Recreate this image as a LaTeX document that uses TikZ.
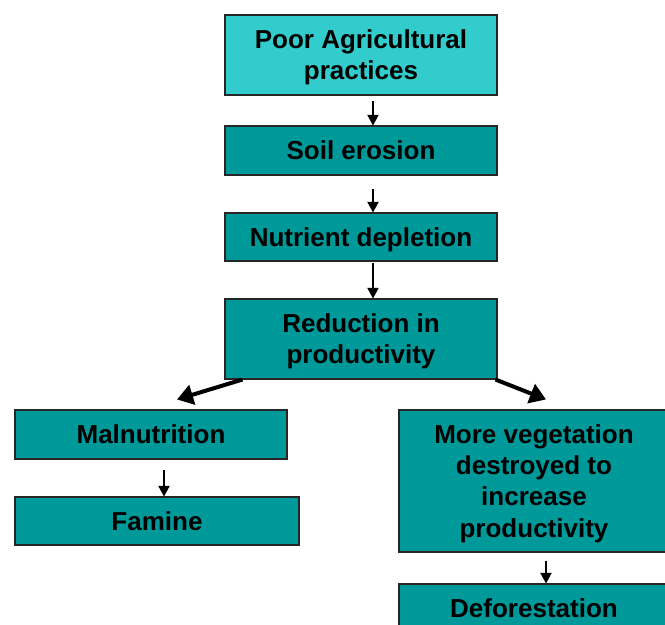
\documentclass[tikz,border=0pt]{standalone}
\usepackage{fontspec}
\setmainfont{Liberation Sans}
\usepackage{tikz}
\usetikzlibrary{arrows.meta,positioning}
\definecolor{lightteal}{HTML}{33CCCC}
\definecolor{darkteal}{HTML}{009999}

\tikzset{
  box/.style={draw=black!85, line width=0.8pt, fill=darkteal, inner sep=0pt,
    align=center, font=\fontsize{19.5}{23.3}\selectfont\bfseries,
    minimum width=204pt, text depth=0pt},
  flow/.style={line width=0.9pt, -{Triangle[length=8pt,width=8.5pt]}},
  branch/.style={line width=3pt, -{Triangle[length=12pt,width=15pt]}}
}

\begin{document}
\begin{tikzpicture}[x=0.75pt,y=-0.75pt]
\useasboundingbox (0,0) rectangle (665,625);
\clip (0,0) rectangle (665,625);

% main chain
\node[box, fill=lightteal, minimum height=60pt] (poor) at (361,55) {Poor Agricultural\\practices};
\node[box, minimum height=36.75pt] (soil) at (361,150.5) {Soil erosion};
\node[box, minimum height=36pt] (nutrient) at (361,237) {Nutrient depletion};
\node[box, minimum height=60pt] (reduction) at (361,339) {Reduction in\\productivity};

% left branch
\node[box, minimum height=36.75pt] (malnutrition) at (151,434.5) {Malnutrition};
\node[box, minimum width=213pt, minimum height=36pt] (famine) at (157,521) {Famine};

% right branch
\node[box, minimum width=202.5pt, minimum height=106.5pt] (vegetation) at (534,481)
  {More vegetation\\destroyed to\\increase\\productivity};
\node[box, minimum width=202.5pt, minimum height=36pt] (deforest) at (534,608) {Deforestation};

% connectors
\draw[flow] ([xshift=9pt,yshift=-4pt]poor.south) -- ([xshift=9pt]soil.north);
\draw[flow] ([xshift=9pt,yshift=-10pt]soil.south) -- ([xshift=9pt]nutrient.north);
\draw[flow] ([xshift=9pt,yshift=-1pt]nutrient.south) -- ([xshift=9pt]reduction.north);
\draw[branch] ([xshift=13.5pt]reduction.south west) -- ([xshift=19.5pt,yshift=7.5pt]malnutrition.north);
\draw[branch] ([xshift=-1.5pt]reduction.south east) -- ([xshift=9pt,yshift=7.5pt]vegetation.north);
\draw[flow] ([xshift=9.75pt,yshift=-8pt]malnutrition.south) -- ([xshift=5.25pt]famine.north);
\draw[flow] ([xshift=9pt,yshift=-6pt]vegetation.south) -- ([xshift=9pt]deforest.north);
\end{tikzpicture}
\end{document}
